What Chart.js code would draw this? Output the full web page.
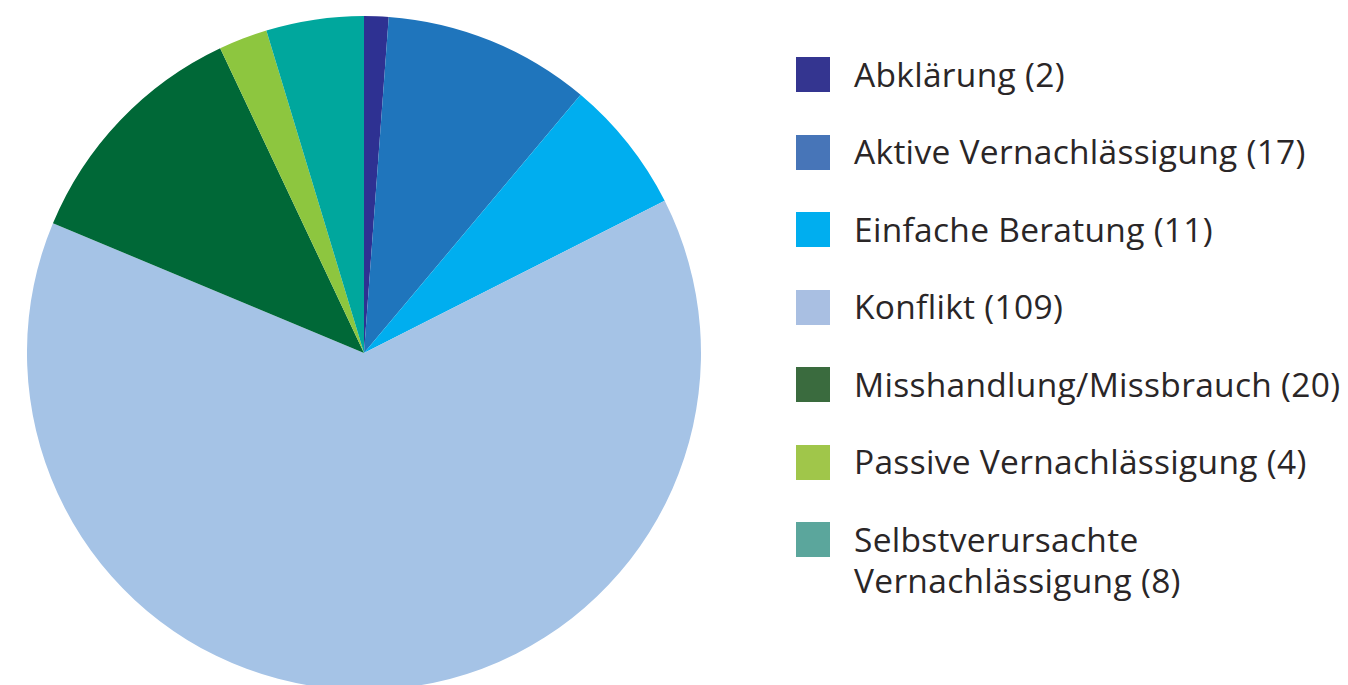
<!DOCTYPE html>
<html>
<head>
<meta charset="utf-8">
<script src="https://cdn.jsdelivr.net/npm/chart.js@4/dist/chart.umd.min.js"></script>
<style>
    html, body { margin: 0; padding: 0; background: #fff; overflow: hidden; }
    body { width: 1348px; height: 685px; position: relative; }
    #pie-wrap { position: absolute; left: 27px; top: 16px; width: 674px; height: 674px; }
    #legend { position: absolute; left: 796px; top: 0; font-family: "Open Sans", sans-serif; color: #2a2627; }
    .item { position: absolute; left: 0; width: 550px; }
    .box { position: absolute; left: 0; top: 0; width: 34px; height: 35px; }
    .txt { position: absolute; left: 58px; font-size: 33.5px; line-height: 41px; letter-spacing: 0.3px; white-space: pre; }
</style>
</head>
<body>
<div id="pie-wrap"><canvas id="chart-pie"></canvas></div>
<div id="legend"></div>

<script>
// Data
const labels = [
    "Abklärung",
    "Aktive Vernachlässigung",
    "Einfache Beratung",
    "Konflikt",
    "Misshandlung/Missbrauch",
    "Passive Vernachlässigung",
    "Selbstverursachte\nVernachlässigung"
];
const counts = [2, 17, 11, 109, 20, 4, 8];
const pieColors = ["#2e3192", "#1f75bc", "#00aeef", "#a5c3e6", "#006837", "#8dc63f", "#00a79d"];
const legendColors = ["#343590", "#4775b8", "#00aeef", "#a9bfe2", "#3a6b3e", "#a0c64a", "#5ba69c"];

// legend row centres (y); the last entry wraps onto two lines
const rowY = [74.5, 152, 229.5, 307, 384.5, 462, 539.5];

function buildLegend() {
    const wrap = document.getElementById("legend");
    wrap.innerHTML = labels.map((l, i) => {
        const text = l + " (" + counts[i] + ")";
        return `
            <div class="item" style="top:${rowY[i] - 17.5}px">
                <div class="box" style="background:${legendColors[i]}"></div>
                <div class="txt" style="top:-3.5px">${text}</div>
            </div>`;
    }).join("");
}

const ctx = document.getElementById("chart-pie").getContext("2d");
new Chart(ctx, {
    type: "pie",
    data: {
        labels: labels,
        datasets: [{
            data: counts,
            backgroundColor: pieColors,
            borderWidth: 0,
        }]
    },
    options: {
        responsive: true, maintainAspectRatio: false,
        animation: false,
        layout: { padding: 0 },
        plugins: {
            legend: { display: false },
            tooltip: { enabled: false }
        }
    }
});

buildLegend();
</script>
</body>
</html>
